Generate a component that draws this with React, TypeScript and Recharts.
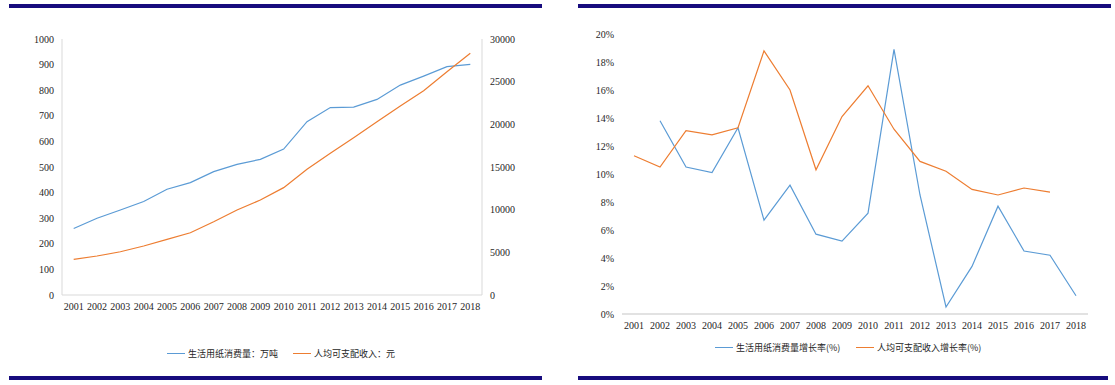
import { LineChart, Line, XAxis, YAxis } from 'recharts';

// years shared by both charts
const years = [
  '2001', '2002', '2003', '2004', '2005', '2006', '2007', '2008', '2009',
  '2010', '2011', '2012', '2013', '2014', '2015', '2016', '2017', '2018',
];

// left chart: 生活用纸消费量 (万吨) and 人均可支配收入 (元)
const paperConsumption = [
  260, 300, 332, 365, 413, 439, 482, 510, 530,
  570, 677, 732, 734, 764, 820, 855, 892, 901,
];
const disposableIncome = [
  4180, 4570, 5070, 5740, 6520, 7300, 8590, 9960, 11130,
  12580, 14730, 16600, 18440, 20300, 22150, 23940, 26170, 28320,
];

// right chart: growth rates (%)
const paperGrowth: (number | null)[] = [
  null, 13.8, 10.5, 10.1, 13.3, 6.7, 9.2, 5.7, 5.2,
  7.2, 18.9, 8.5, 0.5, 3.4, 7.7, 4.5, 4.2, 1.3,
];
const incomeGrowth: (number | null)[] = [
  11.3, 10.5, 13.1, 12.8, 13.3, 18.8, 16.0, 10.3, 14.1,
  16.3, 13.2, 10.9, 10.2, 8.9, 8.5, 9.0, 8.7, null,
];

const leftTicks = [0, 100, 200, 300, 400, 500, 600, 700, 800, 900, 1000];
const rightTicks = [0, 5000, 10000, 15000, 20000, 25000, 30000];
const pctTicks = [0, 2, 4, 6, 8, 10, 12, 14, 16, 18, 20];

const BLUE = '#5B9BD5';
const ORANGE = '#ED7D31';
const NAVY = '#170C7E';
const AXIS = '#D9D9D9';

const levelData = years.map((y, i) => ({
  year: y,
  paper: paperConsumption[i],
  income: disposableIncome[i],
}));

const growthData = years.map((y, i) => ({
  year: y,
  paper: paperGrowth[i],
  income: incomeGrowth[i],
}));

const tickStyle = { fontFamily: '"Liberation Serif", serif', fontSize: 10, fill: '#262626' };

function Bar({ left, top, width }: { left: number; top: number; width: number }) {
  return (
    <div style={{ position: 'absolute', left, top, width, height: 4, background: NAVY }} />
  );
}

function LegendItem({ left, top, color, label }: { left: number; top: number; color: string; label: string }) {
  return (
    <div
      style={{
        position: 'absolute',
        left,
        top,
        display: 'flex',
        alignItems: 'center',
        fontFamily: '"Noto Sans CJK SC", sans-serif',
        fontSize: 9,
        color: '#262626',
        whiteSpace: 'nowrap',
      }}
    >
      <span style={{ display: 'inline-block', width: 18, height: 1.5, background: color, marginRight: 3 }} />
      {label}
    </div>
  );
}

export default function App() {
  return (
    <div style={{ position: 'absolute', left: 0, top: 0, width: 1115, height: 385, background: '#fff', overflow: 'hidden' }}>
      <Bar left={9} top={4} width={533} />
      <Bar left={578} top={4} width={533} />
      <Bar left={9} top={376} width={533} />
      <Bar left={578} top={376} width={530} />

      {/* left chart */}
      <div style={{ position: 'absolute', left: 0, top: 0 }}>
        <LineChart width={550} height={385} data={levelData} margin={{ top: 39, right: 23, bottom: 70, left: 20 }}>
          <XAxis
            dataKey="year"
            tick={tickStyle}
            tickLine={false}
            axisLine={{ stroke: AXIS }}
            interval={0}
            height={20}
            padding={{ left: 11.7, right: 11.7 }}
          />
          <YAxis
            yAxisId="left"
            domain={[0, 1000]}
            ticks={leftTicks}
            tick={tickStyle}
            tickLine={false}
            axisLine={{ stroke: AXIS }}
            width={42}
          />
          <YAxis
            yAxisId="right"
            orientation="right"
            domain={[0, 30000]}
            ticks={rightTicks}
            tick={tickStyle}
            tickLine={false}
            axisLine={{ stroke: AXIS }}
            width={45}
          />
          <Line yAxisId="left" type="linear" dataKey="paper" stroke={BLUE} strokeWidth={1.2} dot={false} isAnimationActive={false} />
          <Line yAxisId="right" type="linear" dataKey="income" stroke={ORANGE} strokeWidth={1.2} dot={false} isAnimationActive={false} />
        </LineChart>
      </div>
      <LegendItem left={167} top={347} color={BLUE} label="生活用纸消费量：万吨" />
      <LegendItem left={293} top={347} color={ORANGE} label="人均可支配收入：元" />

      {/* right chart */}
      <div style={{ position: 'absolute', left: 565, top: 0 }}>
        <LineChart width={550} height={385} data={growthData} margin={{ top: 34, right: 27, bottom: 51, left: 17 }}>
          <XAxis
            dataKey="year"
            tick={tickStyle}
            tickLine={false}
            axisLine={{ stroke: AXIS, strokeWidth: 1.5 }}
            interval={0}
            height={20}
            padding={{ left: 12, right: 12 }}
          />
          <YAxis
            domain={[0, 20]}
            ticks={pctTicks}
            tickFormatter={(v: number) => `${v}%`}
            tick={tickStyle}
            tickLine={false}
            axisLine={false}
            width={40}
          />
          <Line type="linear" dataKey="paper" stroke={BLUE} strokeWidth={1.2} dot={false} isAnimationActive={false} />
          <Line type="linear" dataKey="income" stroke={ORANGE} strokeWidth={1.2} dot={false} isAnimationActive={false} />
        </LineChart>
      </div>
      <LegendItem left={715} top={341} color={BLUE} label="生活用纸消费量增长率(%)" />
      <LegendItem left={856} top={341} color={ORANGE} label="人均可支配收入增长率(%)" />
    </div>
  );
}
